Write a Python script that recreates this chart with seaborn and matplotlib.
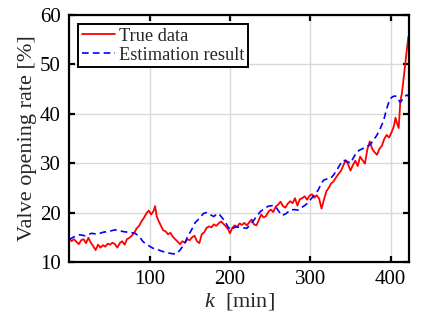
import numpy as np
import pandas as pd
import matplotlib
matplotlib.use("Agg")
import matplotlib.pyplot as plt
import seaborn as sns

# ---- data ----
true_k = [0, 3, 6, 9, 12, 15, 18, 21, 24, 27, 30, 33, 36, 39, 42, 45, 48, 51, 54, 57,
          60, 63, 66, 69, 72, 75, 78, 81, 84, 87, 90, 93, 96, 99, 102, 105, 107, 109, 111, 114,
          117, 120, 123, 126, 129, 132, 135, 138, 141, 144, 147, 150, 153, 156, 159, 162, 165, 168, 171, 174,
          177, 180, 183, 186, 189, 192, 195, 198, 200, 203, 206, 209, 212, 215, 218, 221, 224, 227, 230, 233,
          236, 239, 242, 245, 248, 251, 254, 257, 260, 263, 266, 269, 272, 275, 278, 281, 284, 287, 290, 293,
          296, 299, 302, 305, 308, 311, 314, 317, 320, 323, 326, 329, 332, 335, 338, 341, 344, 347, 350, 353,
          356, 359, 362, 365, 368, 371, 374, 377, 380, 383, 386, 389, 392, 395, 398, 401, 404, 406, 408, 410,
          412, 414, 416, 418, 420, 422]
true_v = [14.8, 14.2, 14.6, 14.1, 13.6, 14.4, 14.6, 13.8, 14.9, 13.9, 13.2, 12.4, 13.5, 12.9, 13.4, 13.1, 13.7, 13.5, 13.9, 13.6,
          12.9, 13.8, 14.2, 13.5, 14.6, 14.9, 15.3, 15.9, 16.8, 17.3, 18.2, 18.9, 19.8, 20.4, 19.6, 20.3, 21.3, 19.2, 18.4, 17.4,
          16.4, 16.2, 15.6, 15.9, 15.1, 14.6, 14.1, 13.6, 14.2, 13.9, 14.6, 14.4, 15.0, 15.3, 14.2, 13.8, 15.6, 16.0, 16.9, 17.2,
          17.0, 17.6, 17.3, 17.8, 18.2, 17.7, 17.2, 16.6, 15.8, 16.9, 17.4, 17.1, 17.8, 17.5, 17.9, 17.4, 18.0, 18.6, 17.6, 17.4,
          18.5, 19.6, 19.0, 19.3, 20.2, 20.6, 20.1, 21.2, 21.6, 22.2, 21.3, 21.0, 21.8, 22.3, 21.9, 22.9, 21.4, 22.7, 22.9, 23.3,
          22.6, 23.4, 23.7, 23.0, 23.5, 22.8, 20.8, 22.6, 24.3, 25.0, 25.9, 26.3, 27.1, 27.8, 28.4, 29.5, 30.6, 29.8, 28.5, 29.6,
          30.5, 29.4, 31.3, 30.6, 29.9, 32.8, 34.4, 32.9, 32.2, 31.7, 32.9, 33.5, 34.9, 35.7, 35.2, 36.2, 37.5, 39.2, 38.0, 37.1,
          42.5, 44.2, 47.0, 50.0, 52.8, 55.6]

est_k = [0, 5, 13, 20, 28, 35, 42, 50, 57, 63, 69, 75, 82, 87, 92, 98, 104, 110, 115, 121,
         127, 133, 138, 144, 147, 152, 157, 162, 167, 171, 175, 180, 183, 186, 190, 194, 198, 201, 204, 207,
         212, 217, 221, 225, 230, 234, 238, 243, 248, 253, 257, 261, 265, 270, 275, 280, 285, 288, 292, 296,
         300, 305, 310, 314, 317, 321, 325, 329, 333, 337, 341, 345, 350, 354, 358, 362, 366, 370, 374, 378,
         383, 387, 391, 395, 399, 403, 406, 409, 412, 416, 420, 422]
est_v = [14.5, 15.0, 15.5, 15.3, 15.8, 15.6, 16.0, 16.2, 16.5, 16.3, 16.1, 16.0, 15.8, 15.2, 14.1, 13.4, 12.8, 12.5, 12.2, 11.9,
         11.7, 11.6, 12.4, 13.8, 15.0, 16.4, 18.0, 18.8, 19.8, 20.0, 19.6, 19.2, 19.6, 19.8, 19.0, 18.2, 17.0, 16.5, 16.8, 17.1,
         17.0, 16.9, 16.8, 17.5, 18.5, 19.4, 20.2, 20.8, 21.3, 21.4, 21.2, 20.2, 19.4, 19.8, 20.5, 20.6, 20.5, 20.9, 21.3, 21.8,
         22.6, 23.5, 24.6, 26.0, 26.6, 26.8, 26.9, 27.6, 28.6, 29.7, 30.6, 30.4, 30.0, 31.2, 32.3, 32.7, 33.0, 33.3, 33.7, 34.5,
         35.7, 37.0, 38.5, 41.0, 43.0, 43.5, 43.6, 43.0, 42.3, 43.2, 43.8, 43.6]

x_ticks = [100, 200, 300, 400]
y_ticks = [10, 20, 30, 40, 50, 60]

df_true = pd.DataFrame({"k": true_k, "v": true_v})
df_est = pd.DataFrame({"k": est_k, "v": est_v})

sns.set_style("ticks")
plt.rcParams["font.family"] = ["Liberation Serif", "DejaVu Serif"]
plt.rcParams["mathtext.fontset"] = "custom"
plt.rcParams["mathtext.it"] = "Liberation Serif:italic"
plt.rcParams["mathtext.rm"] = "Liberation Serif"

fig = plt.figure(figsize=(4.24, 3.25), dpi=100)
ax = fig.add_axes([0.163, 0.194, 0.802, 0.760])

sns.lineplot(data=df_true, x="k", y="v", ax=ax, color="#ff0000", linewidth=1.3,
             label="True data", estimator=None, sort=False)
sns.lineplot(data=df_est, x="k", y="v", ax=ax, color="#0000ff", linewidth=1.2,
             label="Estimation result", estimator=None, sort=False)
ax.lines[1].set_dashes([4, 2.5])

ax.set_xlim(0, 423)
ax.set_ylim(10, 60)
ax.set_xticks(x_ticks)
ax.set_yticks(y_ticks)
ax.grid(True, color="#d9d9d9", linewidth=1.0)
ax.set_axisbelow(True)
for s in ax.spines.values():
    s.set_visible(True)
    s.set_linewidth(1.6)
    s.set_color("black")
ax.tick_params(direction="in", length=4, width=1.6, top=True, right=True,
               labelsize=15, pad=6, colors="black")
ax.set_xlabel("$k$  [min]", fontsize=16, labelpad=1)
ax.set_ylabel("Valve opening rate [%]", fontsize=16, labelpad=2)

leg = ax.legend(loc="upper left", fontsize=13.2, frameon=True, fancybox=False,
                edgecolor="black", framealpha=1, borderpad=0.2, labelspacing=0.1,
                handlelength=1.8, handletextpad=0.2, borderaxespad=0.5)
leg.get_frame().set_linewidth(1.4)

fig.savefig("out.png", dpi=100)
